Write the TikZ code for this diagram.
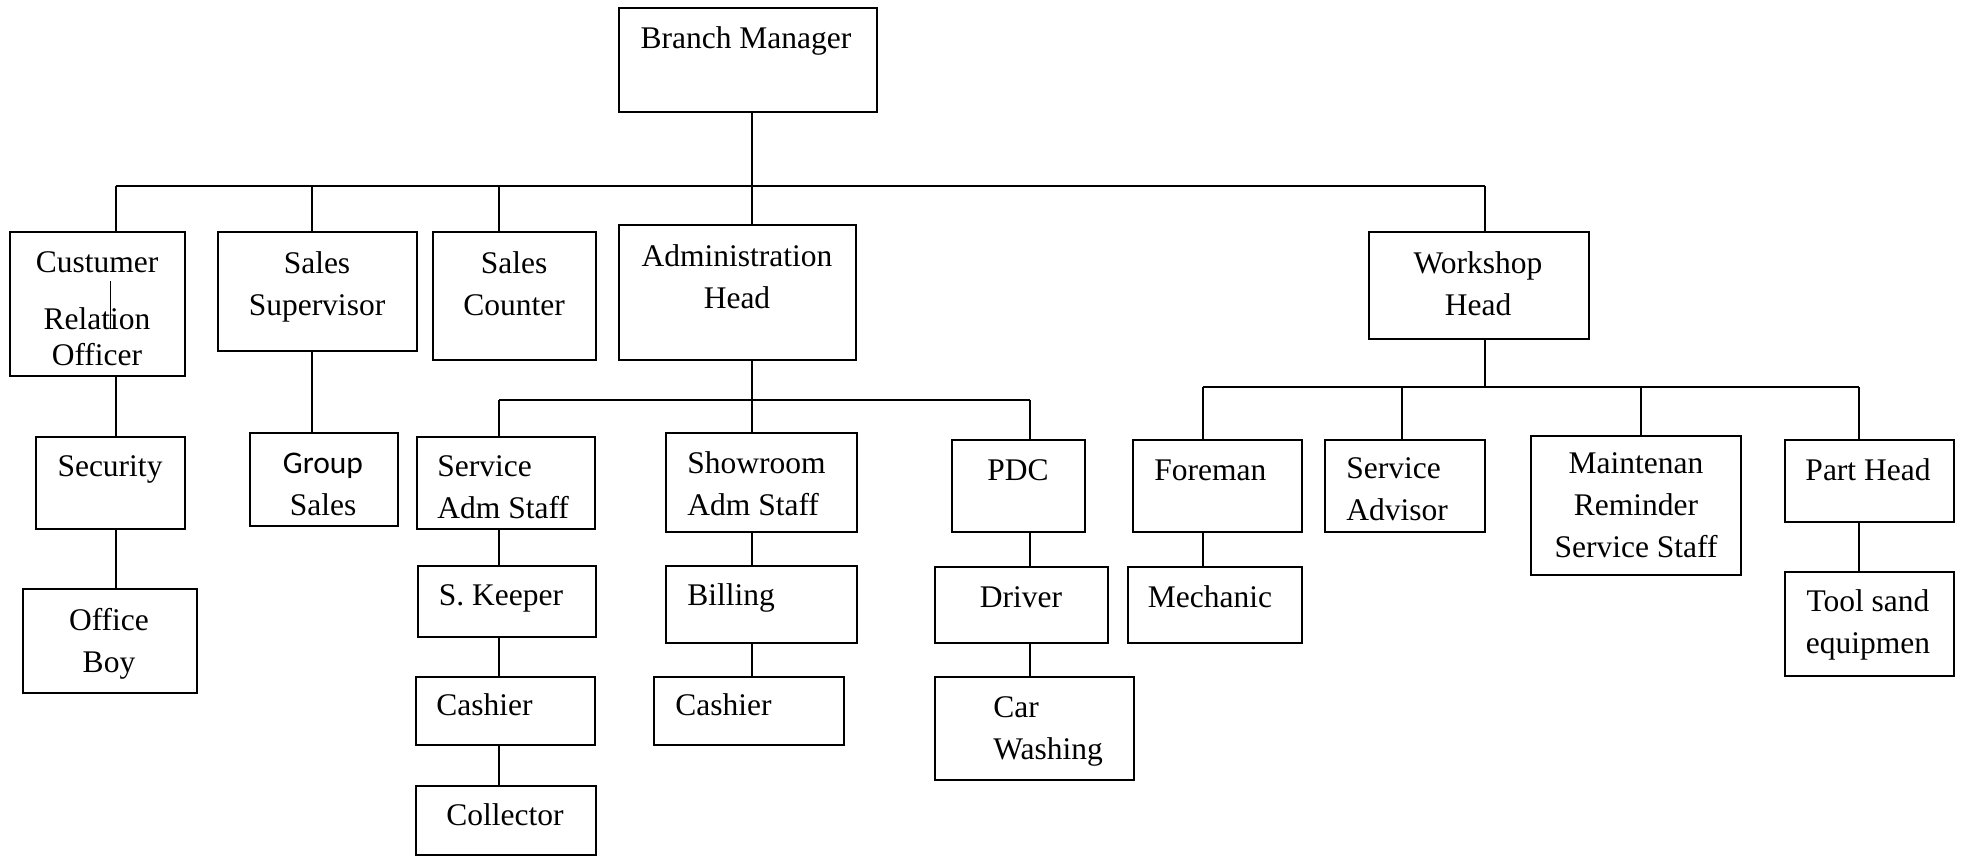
\documentclass[tikz,border=0pt]{standalone}
\usepackage{fontspec}
\setmainfont{Liberation Serif}
\newfontfamily\grpfont{Carlito}
\usetikzlibrary{fit}

\tikzset{
  box/.style = {draw, line width=1pt, inner sep=0pt},
  wire/.style = {line width=0.8pt},
  txt/.style = {inner sep=0pt, anchor=north, align=center,
    font=\fontsize{15.75}{21}\selectfont, execute at begin node=\strut},
  txtl/.style = {txt, anchor=north west, align=left}
}

\begin{document}
\begin{tikzpicture}[x=0.5pt, y=-0.5pt]
\useasboundingbox (0,0) rectangle (1964,857);

% boxes
\node[box, fit={(619,8) (877,112)}] (bm) {};
\node[box, fit={(10,232) (185,376)}] (cro) {};
\node[box, fit={(218,232) (417,351)}] (ssup) {};
\node[box, fit={(433,232) (596,360)}] (scnt) {};
\node[box, fit={(619,225) (856,360)}] (adm) {};
\node[box, fit={(1369,232) (1589,339)}] (wsh) {};
\node[box, fit={(36,437) (185,529)}] (sec) {};
\node[box, fit={(23,589) (197,693)}] (oboy) {};
\node[box, fit={(250,433) (398,526)}] (grp) {};
\node[box, fit={(417,437) (595,529)}] (sas) {};
\node[box, fit={(666,433) (857,532)}] (sras) {};
\node[box, fit={(418,566) (596,637)}] (skp) {};
\node[box, fit={(416,677) (595,745)}] (cash1) {};
\node[box, fit={(416,786) (596,855)}] (coll) {};
\node[box, fit={(666,566) (857,643)}] (bill) {};
\node[box, fit={(654,677) (844,745)}] (cash2) {};
\node[box, fit={(952,440) (1085,532)}] (pdc) {};
\node[box, fit={(935,567) (1108,643)}] (drv) {};
\node[box, fit={(935,677) (1134,780)}] (carw) {};
\node[box, fit={(1133,440) (1302,532)}] (fore) {};
\node[box, fit={(1128,567) (1302,643)}] (mech) {};
\node[box, fit={(1325,440) (1485,532)}] (sadv) {};
\node[box, fit={(1531,436) (1741,575)}] (mrss) {};
\node[box, fit={(1785,440) (1954,522)}] (parth) {};
\node[box, fit={(1785,572) (1954,676)}] (tools) {};

% texts
\node[txt] (bmt) at (746,18.6) {Branch Manager};
\node[txt] (crot) at (97,251.6) {Custumer\\[7.5pt]Relation\\[-3pt]Officer};
\node[txt] (ssupt) at (317,251.6) {Sales\\Supervisor};
\node[txt] (scntt) at (514,251.6) {Sales\\Counter};
\node[txt] (admt) at (737,244.6) {Administration\\Head};
\node[txt] (wsht) at (1478,251.6) {Workshop\\Head};
\node[txt] (sect) at (110,446.6) {Security};
\node[txt] (oboyt) at (109,607.6) {Office\\Boy};
\node[txt] (grpt) at (323,452.6) {{\grpfont Group}\\Sales};
\node[txtl] (sast) at (437,455.6) {Service\\Adm Staff};
\node[txtl] (srast) at (687,451.6) {Showroom\\Adm Staff};
\node[txt] (skpt) at (501,575.6) {S. Keeper};
\node[txtl] (cash1t) at (436,685.6) {Cashier};
\node[txt] (collt) at (505,795.6) {Collector};
\node[txtl] (billt) at (687,575.6) {Billing};
\node[txtl] (cash2t) at (675,685.6) {Cashier};
\node[txt] (pdct) at (1018,450.6) {PDC};
\node[txt] (drvt) at (1021,577.6) {Driver};
\node[txtl] (carwt) at (993,696.6) {Car\\Washing};
\node[txtl] (foret) at (1154,450.6) {Foreman};
\node[txt] (mecht) at (1210,577.6) {Mechanic};
\node[txtl] (sadvt) at (1346,457.6) {Service\\Advisor};
\node[txt] (mrsst) at (1636,452.6) {Maintenan\\Reminder\\Service Staff};
\node[txt] (partt) at (1868,450.6) {Part Head};
\node[txt] (toolst) at (1868,589.6) {Tool sand\\equipmen};

% top level
\coordinate (j1) at (116,186);
\coordinate (j2) at (312,186);
\coordinate (j3) at (499,186);
\coordinate (j4) at (752,186);
\coordinate (j5) at (1485,186);
\draw[wire] (j1) -- (j5);
\draw[wire] (bm.south -| j4) -- (adm.north -| j4);
\draw[wire] (j1) -- (cro.north -| j1);
\draw[wire] (j2) -- (ssup.north -| j2);
\draw[wire] (j3) -- (scnt.north -| j3);
\draw[wire] (j5) -- (wsh.north -| j5);

% left columns
\draw[wire] (cro.south -| j1) -- (sec.north -| j1);
\draw[wire] (sec.south -| j1) -- (oboy.north -| j1);
\draw[wire] (ssup.south -| j2) -- (grp.north -| j2);
\draw[very thin] (110,281) -- (110,329);

% administration
\coordinate (k1) at (499,400);
\coordinate (k2) at (752,400);
\coordinate (k3) at (1030,400);
\draw[wire] (adm.south -| k2) -- (k2);
\draw[wire] (k1) -- (k3);
\draw[wire] (k1) -- (sas.north -| k1);
\draw[wire] (k2) -- (sras.north -| k2);
\draw[wire] (k3) -- (pdc.north -| k3);
\draw[wire] (sas.south -| k1) -- (skp.north -| k1);
\draw[wire] (skp.south -| k1) -- (cash1.north -| k1);
\draw[wire] (cash1.south -| k1) -- (coll.north -| k1);
\draw[wire] (sras.south -| k2) -- (bill.north -| k2);
\draw[wire] (bill.south -| k2) -- (cash2.north -| k2);
\draw[wire] (pdc.south -| k3) -- (drv.north -| k3);
\draw[wire] (drv.south -| k3) -- (carw.north -| k3);

% workshop
\coordinate (w1) at (1203,387);
\coordinate (w2) at (1402,387);
\coordinate (w3) at (1641,387);
\coordinate (w4) at (1859,387);
\draw[wire] (wsh.south -| j5) -- (j5 |- w1);
\draw[wire] (w1) -- (w4);
\draw[wire] (w1) -- (fore.north -| w1);
\draw[wire] (w2) -- (sadv.north -| w2);
\draw[wire] (w3) -- (mrss.north -| w3);
\draw[wire] (w4) -- (parth.north -| w4);
\draw[wire] (fore.south -| w1) -- (mech.north -| w1);
\draw[wire] (parth.south -| w4) -- (tools.north -| w4);

\end{tikzpicture}
\end{document}
